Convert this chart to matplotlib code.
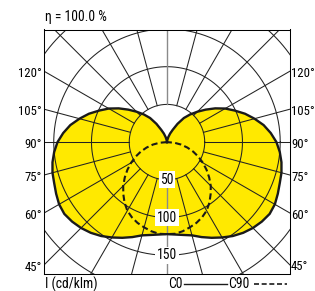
"""
plot.py — polar luminous intensity diagram (C0 / C90), cd/klm
"""

import numpy as np
import matplotlib
matplotlib.use("Agg")
import matplotlib.pyplot as plt
from matplotlib.lines import Line2D

plt.rcParams["font.family"] = ["Roboto Condensed", "DejaVu Sans"]

# ── Photometric data (cd/klm), gamma measured from nadir ─────────────────────
GAMMA_C0 = [0, 5, 10, 15, 20, 25, 30, 35, 40, 45, 50, 55, 60, 65, 70, 75, 80,
            85, 90, 95, 100, 105, 110, 115, 120, 125, 130, 135, 140, 145, 150,
            155, 160, 165, 170, 175, 180]
I_C0 = [122, 123, 125, 128, 134, 140, 146, 152, 157, 161, 164, 166, 165, 162,
        159, 157, 154, 150, 145, 138, 130, 120, 110, 99, 89, 78, 67, 57, 48,
        39, 28, 18, 12, 7, 3, 1, 0]

GAMMA_C90 = [0, 5, 10, 15, 20, 25, 30, 35, 40, 45, 50, 55, 60, 65, 70, 75, 80,
             85, 90]
I_C90 = [122, 122, 120, 117, 114, 110, 105, 98, 90, 82, 73, 64, 55, 46, 37,
         28, 19, 10, 0]

RINGS = [50, 100, 150, 200]
RING_LABELS = ["50", "100", "150"]
SIDE_ANGLES = [45, 60, 75, 90, 105, 120]
ETA_TEXT = "η = 100.0 %"
UNIT_TEXT = "I (cd/klm)"

# ── Layout / style ───────────────────────────────────────────────────────────
X_MIN, X_MAX = -162.9, 162.3
Y_MIN, Y_MAX = -174.2, 149.3
YELLOW = "#ffe900"
FS = 9.8
FS_SIDE = 9.2
LW_GRID = 0.75


def to_xy(gamma, inten, side=1):
    g = np.radians(np.asarray(gamma, dtype=float))
    r = np.asarray(inten, dtype=float)
    return side * r * np.sin(g), -r * np.cos(g)


fig = plt.figure(figsize=(3.15, 2.91), dpi=100)
ax = fig.add_axes([44 / 315, 1 - 273.5 / 291, 245.5 / 315, 244 / 291])
ax.set_xlim(X_MIN, X_MAX)
ax.set_ylim(Y_MIN, Y_MAX)
ax.set_xticks([])
ax.set_yticks([])
for sp in ax.spines.values():
    sp.set_linewidth(LW_GRID)

# ── C0 curve (filled) ────────────────────────────────────────────────────────
xr, yr = to_xy(GAMMA_C0, I_C0, 1)
xl, yl = to_xy(GAMMA_C0, I_C0, -1)
c0_x = np.concatenate([xl[::-1], xr])
c0_y = np.concatenate([yl[::-1], yr])
ax.fill(c0_x, c0_y, color=YELLOW, lw=0, zorder=1)

# ── Grid: rings + radial lines ───────────────────────────────────────────────
t = np.linspace(0, 2 * np.pi, 400)
for R in RINGS:
    ax.plot(R * np.cos(t), R * np.sin(t), color="#222222", lw=LW_GRID, zorder=2)

for g in range(15, 180, 15):
    for side in (1, -1):
        gx, gy = to_xy([g, g], [RINGS[0], 400], side)
        ax.plot(gx, gy, color="#222222", lw=LW_GRID, zorder=2)
for g in (0, 180):
    gx, gy = to_xy([g, g], [RINGS[0], 400])
    ax.plot(gx, gy, color="#8a8a8a", lw=1.0, zorder=2)

# ── Outlines ─────────────────────────────────────────────────────────────────
ax.plot(c0_x, c0_y, color="#1a1a1a", lw=1.7, zorder=3, solid_joinstyle="round")

xr9, yr9 = to_xy(GAMMA_C90, I_C90, 1)
xl9, yl9 = to_xy(GAMMA_C90, I_C90, -1)
ax.plot(np.concatenate([xl9[::-1], xr9]), np.concatenate([yl9[::-1], yr9]),
        color="#1a1a1a", lw=1.5, ls=(0, (3.0, 1.6)), zorder=4)

# ── Labels ───────────────────────────────────────────────────────────────────
for R, lab in zip(RINGS, RING_LABELS):
    ax.text(0, -R, lab, ha="center", va="center", fontsize=FS, zorder=5,
            bbox=dict(boxstyle="square,pad=0.12", fc="white", ec="none"))

for g in SIDE_ANGLES:
    cot = np.cos(np.radians(g)) / np.sin(np.radians(g))
    ax.text(X_MIN - 2.5, X_MIN * cot - 3, f"{g}°", ha="right", va="center",
            fontsize=FS_SIDE, clip_on=False)
    ax.text(X_MAX + 2.0, -X_MAX * cot - 3, f"{g}°", ha="left", va="center",
            fontsize=FS_SIDE, clip_on=False)

fig.text(45 / 315, 1 - 17.5 / 291, ETA_TEXT, ha="left", va="center",
         fontsize=FS)
fig.text(45 / 315, 1 - 284.5 / 291, UNIT_TEXT, ha="left", va="center",
         fontsize=FS)

# legend: C0 ——— C90 - - -
ly = 1 - 284 / 291
fig.text(168 / 315, 1 - 284.5 / 291, "C0", ha="left", va="center", fontsize=FS)
fig.add_artist(Line2D([184 / 315, 226.5 / 315], [ly, ly], color="#1a1a1a",
                      lw=1.0, transform=fig.transFigure))
fig.text(228.5 / 315, 1 - 284.5 / 291, "C90", ha="left", va="center",
         fontsize=FS)
fig.add_artist(Line2D([253.5 / 315, 287 / 315], [ly, ly], color="#1a1a1a",
                      lw=1.2, ls=(0, (3.0, 1.6)), transform=fig.transFigure))

fig.savefig("out.png", dpi=100)
